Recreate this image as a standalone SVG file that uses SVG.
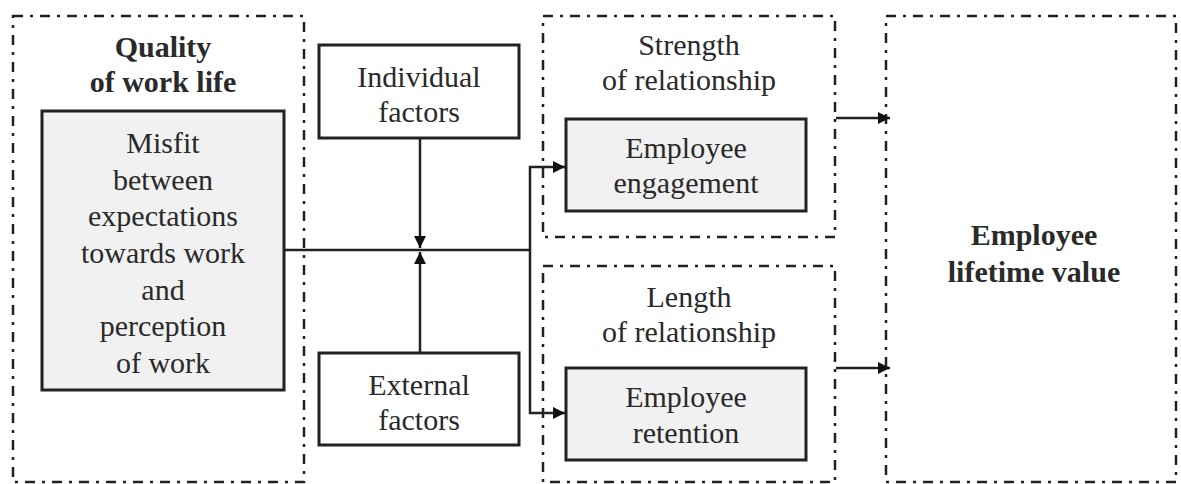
<svg xmlns="http://www.w3.org/2000/svg" width="1181" height="484" viewBox="0 0 1181 484">
<style>
.dd{fill:none;stroke:#222;stroke-width:2.5;stroke-dasharray:10 7 3 7}
.box{fill:#fff;stroke:#222;stroke-width:3}
.gbox{fill:#f1f1f1;stroke:#222;stroke-width:3}
text{font-family:'Liberation Serif','DejaVu Serif',serif;font-size:30px;fill:#2a2a2a;text-anchor:middle}
.b{font-weight:bold}
.ln{fill:none;stroke:#222;stroke-width:2.5}
</style>
<defs>
<marker id="ah" viewBox="0 0 12 12" refX="12" refY="6" markerWidth="12" markerHeight="12" markerUnits="userSpaceOnUse" orient="auto">
<path d="M0,0 L12,6 L0,12 Z" fill="#111"/>
</marker>
</defs>
<rect width="1181" height="484" fill="#fff"/>
<g font-family="Liberation Serif, serif">
<g id="quality">
<rect class="dd" x="13" y="16" width="291" height="466"/>
<text class="b" x="163" y="57">Quality</text>
<text class="b" x="163" y="92">of work life</text>
</g>
<g id="misfit">
<rect class="gbox" x="42" y="111" width="242" height="279"/>
<text x="163" y="153">Misfit</text>
<text x="163" y="189.7">between</text>
<text x="163" y="226.3">expectations</text>
<text x="163" y="263">towards work</text>
<text x="163" y="299.7">and</text>
<text x="163" y="336.3">perception</text>
<text x="163" y="373">of work</text>
</g>
<g id="individual">
<rect class="box" x="319" y="45" width="200" height="93"/>
<text x="419" y="87">Individual</text>
<text x="419" y="122">factors</text>
</g>
<g id="external">
<rect class="box" x="319" y="353" width="200" height="92"/>
<text x="419" y="395">External</text>
<text x="419" y="430">factors</text>
</g>
<g id="strength">
<rect class="dd" x="543" y="16" width="292" height="221"/>
<text x="689" y="55">Strength</text>
<text x="689" y="90">of relationship</text>
</g>
<g id="engagement">
<rect class="gbox" x="566" y="119" width="240" height="92"/>
<text x="686" y="158">Employee</text>
<text x="686" y="193">engagement</text>
</g>
<g id="length">
<rect class="dd" x="543" y="266" width="292" height="216"/>
<text x="689" y="307">Length</text>
<text x="689" y="342">of relationship</text>
</g>
<g id="retention">
<rect class="gbox" x="566" y="368" width="240" height="92"/>
<text x="686" y="407">Employee</text>
<text x="686" y="443">retention</text>
</g>
<g id="lifetime">
<rect class="dd" x="886" y="16" width="290" height="466"/>
<text class="b" x="1034" y="245">Employee</text>
<text class="b" x="1034" y="282">lifetime value</text>
</g>
</g>
<g id="connectors">
<line class="ln" x1="284" y1="250" x2="530" y2="250"/>
<line class="ln" x1="420" y1="138" x2="420" y2="248" marker-end="url(#ah)"/>
<line class="ln" x1="420" y1="353" x2="420" y2="252" marker-end="url(#ah)"/>
<polyline class="ln" points="530,250 530,167 565,167" marker-end="url(#ah)"/>
<polyline class="ln" points="530,250 530,413 565,413" marker-end="url(#ah)"/>
<line class="ln" x1="836" y1="118" x2="890" y2="118" marker-end="url(#ah)"/>
<line class="ln" x1="836" y1="368" x2="890" y2="368" marker-end="url(#ah)"/>
</g>
</svg>
